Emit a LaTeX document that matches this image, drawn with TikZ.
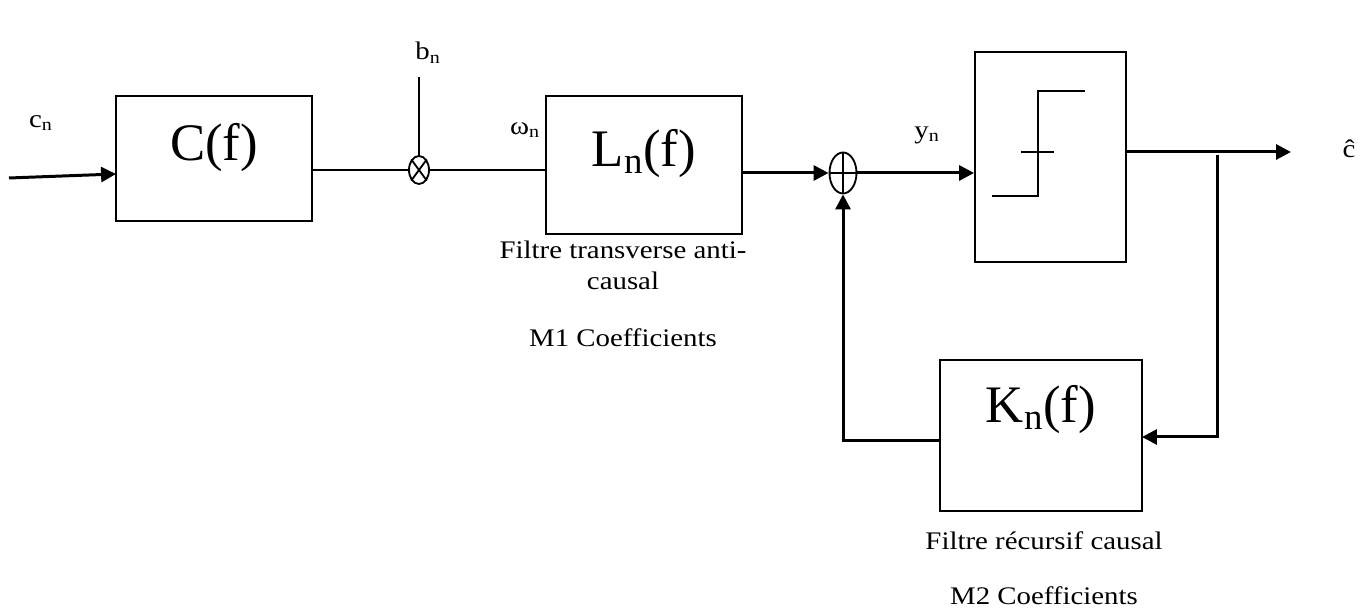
\documentclass[tikz,border=0pt]{standalone}
\usepackage{fontspec}
\setmainfont[FakeStretch=1.14]{Liberation Serif}
\newfontfamily\blockfont{Liberation Serif}
\usetikzlibrary{arrows.meta, positioning, shapes.geometric}
\newcommand{\labelsize}{\fontsize{14.4}{17.6}\selectfont}
\newcommand{\blocksize}{\blockfont\fontsize{30}{34}\selectfont}
\newcommand{\blocktext}[2]{\raisebox{#1}[0pt][0pt]{#2}}

\begin{document}
\begin{tikzpicture}[
    block/.style={draw, line width=1.05pt, align=center, font=\blocksize},
    sumop/.style={draw, ellipse, line width=1.05pt, inner sep=0pt, minimum width=#1},
    lab/.style={align=center, font=\labelsize},
    thin line/.style={line width=1.05pt},
    sig/.style={line width=1.7pt},
    >={Triangle[length=8.5pt, width=8.5pt]},
]
    \useasboundingbox (0, 0) rectangle (27.36, 12.16);

    % Blocks
    \node[block, minimum width=3.92cm, minimum height=2.5cm] (cf) at (4.28, 8.99) {\blocktext{-0.05cm}{C(f)}};
    \node[block, minimum width=3.92cm, minimum height=2.76cm] (ln) at (12.88, 8.86) {\blocktext{-0.04cm}{L\textsubscript{n}(f)}};
    \node[block, minimum width=3.02cm, minimum height=4.2cm] (dec) at (21.01, 9.02) {};
    \node[block, minimum width=4.04cm, minimum height=3.02cm] (kn) at (20.82, 3.45) {\blocktext{0.25cm}{K\textsubscript{n}(f)}};

    % Mixer and adder
    \node[sumop=0.4cm, minimum height=0.56cm] (mult) at (8.38, 8.76) {};
    \node[sumop=0.54cm, minimum height=0.82cm] (plus) at (16.86, 8.70) {};
    \draw[thin line] (mult.north east) -- (mult.south west) (mult.north west) -- (mult.south east);
    \draw[thin line] (plus.north) -- (plus.south) (plus.west) -- (plus.east);

    % Free ends
    \coordinate (cin) at (0.18, 8.6);
    \coordinate (cfin) at (2.32, 8.68);
    \coordinate (bin) at (8.38, 10.62);
    \coordinate (out) at (25.82, 9.12);
    \coordinate (tap) at (24.34, 9.06);
    \coordinate (knin) at (22.84, 3.42);
    \coordinate (knout) at (18.8, 3.34);

    % Connectors
    \draw[->, sig] (cin) -- (cfin);
    \draw[thin line] (cf.east |- mult) -- (mult.west);
    \draw[thin line] (bin) -- (mult.north);
    \draw[thin line] (mult.east) -- (ln.west |- mult);
    \draw[->, sig] (ln.east |- plus) -- (plus.west);
    \draw[->, sig] (plus.east) -- (dec.west |- plus);
    \draw[->, sig] (dec.east |- out) -- (out);
    \draw[->, sig] (tap) |- (knin);
    \draw[->, sig] (knout) -| (plus.south);

    % Threshold curve
    \draw[thin line] (19.84, 8.24) -- (20.76, 8.24) -- (20.76, 10.34) -- (21.7, 10.34);
    \draw[thin line] (20.42, 9.12) -- (21.08, 9.12);

    % Labels
    \node[lab] (lcn) at (0.82, 9.7) {c\textsubscript{n}};
    \node[lab] (lbn) at (8.56, 11.1) {b\textsubscript{n}};
    \node[lab] (lwn) at (10.5, 9.56) {ω\textsubscript{n}};
    \node[lab] (lyn) at (18.54, 9.46) {y\textsubscript{n}};
    \node[lab] (lout) at (26.98, 9.18) {ĉ};
    \node[lab] (lfa) at (12.46, 6.86) {Filtre transverse anti-\\causal};
    \node[lab] (lm1) at (12.46, 5.4) {M1 Coefficients};
    \node[lab] (lfr) at (20.88, 1.34) {Filtre récursif causal};
    \node[lab] (lm2) at (20.88, 0.24) {M2 Coefficients};
\end{tikzpicture}
\end{document}
